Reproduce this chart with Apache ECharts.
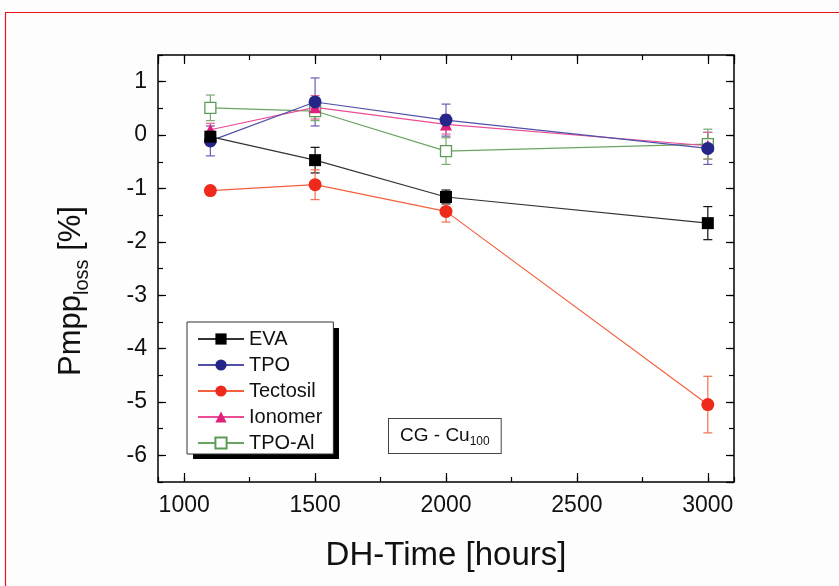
<!DOCTYPE html>
<html><head><meta charset="utf-8">
<script src="https://cdn.jsdelivr.net/npm/echarts@6/dist/echarts.min.js"></script>
<style>html,body{margin:0;padding:0;background:#fdfdfe}#c{width:839px;height:586px}</style>
</head><body><div id="c"></div>
<script>
// ---- data ----
const hours = [1100, 1500, 2000, 3000];
const seriesNames = ['EVA', 'TPO', 'Tectosil', 'Ionomer', 'TPO-Al'];
const evaValues = [-0.03, -0.47, -1.16, -1.65];
const evaErrors = [0.08, 0.24, 0.13, 0.31];
const tpoValues = [-0.11, 0.62, 0.28, -0.25];
const tpoErrors = [0.28, 0.45, 0.30, 0.30];
const tectosilValues = [-1.04, -0.93, -1.43, -5.05];
const tectosilErrors = [0.06, 0.28, 0.20, 0.53];
const ionomerValues = [0.10, 0.52, 0.20, -0.20];
const ionomerErrors = [0.12, 0.22, 0.18, 0.25];
const tpoAlValues = [0.51, 0.45, -0.30, -0.17];
const tpoAlErrors = [0.24, 0.18, 0.25, 0.28];
const xTickLabels = [1000, 1500, 2000, 2500, 3000];
const yTickLabels = [1, 0, -1, -2, -3, -4, -5, -6];

const FONT = 'Liberation Sans, Arial, sans-serif';
const chart = echarts.init(document.getElementById('c'));

function pts(vals) { return hours.map((h, i) => [h, vals[i]]); }
function errData(vals, errs) { return hours.map((h, i) => [h, vals[i] - errs[i], vals[i] + errs[i]]); }

function lineSeries(name, vals, symbol, size, itemStyle, lineColor, z) {
  return { name, type: 'line', data: pts(vals), symbol, symbolSize: size,
    itemStyle, lineStyle: { color: lineColor, width: 1.2 }, z, emphasis: { disabled: true } };
}
function errSeries(name, vals, errs, color) {
  return {
    type: 'custom', name: name + ' err', data: errData(vals, errs), encode: { x: 0, y: [1, 2] }, z: 1, silent: true,
    renderItem: function (params, api) {
      const x = api.value(0);
      const lo = api.coord([x, api.value(1)]);
      const hi = api.coord([x, api.value(2)]);
      const w = 4.5;
      const st = { stroke: color, lineWidth: 1.2 };
      return { type: 'group', children: [
        { type: 'line', shape: { x1: lo[0], y1: lo[1], x2: hi[0], y2: hi[1] }, style: st },
        { type: 'line', shape: { x1: lo[0] - w, y1: lo[1], x2: lo[0] + w, y2: lo[1] }, style: st },
        { type: 'line', shape: { x1: hi[0] - w, y1: hi[1], x2: hi[0] + w, y2: hi[1] }, style: st }
      ] };
    }
  };
}

const xFmt = v => (xTickLabels.indexOf(v) >= 0 ? String(v) : '');
const yFmt = v => (yTickLabels.indexOf(v) >= 0 ? String(v) : '');

function xAxisDef(pos, step, major) {
  return { type: 'value', position: pos, min: 900, max: 3100, minInterval: step, maxInterval: step,
    axisLine: { show: false, onZero: false }, splitLine: { show: false },
    axisTick: { inside: true, length: major ? 9 : 5, lineStyle: { color: '#000', width: 1.2 } },
    axisLabel: (pos === 'bottom' && major) ? { show: true, fontSize: 23, color: '#111', fontFamily: FONT, margin: 12,
      showMinLabel: false, showMaxLabel: false, formatter: xFmt } : { show: false } };
}
function yAxisDef(pos, step, major) {
  return { type: 'value', position: pos, min: -6.5, max: 1.5, minInterval: step, maxInterval: step,
    axisLine: { show: false, onZero: false }, splitLine: { show: false },
    axisTick: { inside: true, length: major ? 8 : 5, lineStyle: { color: '#000', width: 1.2 } },
    axisLabel: (pos === 'left' && major) ? { show: true, fontSize: 23, color: '#111', fontFamily: FONT, margin: 11,
      showMinLabel: false, showMaxLabel: false, formatter: yFmt } : { show: false } };
}

const xAxes = [xAxisDef('bottom', 500, true), xAxisDef('bottom', 250, false), xAxisDef('top', 500, true), xAxisDef('top', 250, false)];
xAxes[0].name = 'DH-Time [hours]';
xAxes[0].nameLocation = 'middle';
xAxes[0].nameGap = 57;
xAxes[0].nameTextStyle = { fontSize: 33, color: '#111', fontFamily: FONT };

const option = {
  animation: false,
  backgroundColor: '#fdfdfe',
  textStyle: { fontFamily: FONT },
  grid: { left: 158, right: 105, top: 55, bottom: 104, show: true, borderColor: '#000', borderWidth: 1.5, backgroundColor: '#fff' },
  xAxis: xAxes,
  yAxis: [yAxisDef('left', 1, true), yAxisDef('left', 0.5, false), yAxisDef('right', 1, true), yAxisDef('right', 0.5, false)],
  legend: {
    orient: 'vertical', left: 187, top: 322, data: seriesNames,
    itemWidth: 46, itemHeight: 14, itemGap: 6, padding: [7, 11, 1, 10],
    textStyle: { fontSize: 20, lineHeight: 20, color: '#111', fontFamily: FONT },
    backgroundColor: '#fff', borderColor: '#333', borderWidth: 1,
    selectedMode: false
  },
  series: [
    errSeries('EVA', evaValues, evaErrors, '#111'),
    errSeries('TPO', tpoValues, tpoErrors, '#6a5cb0'),
    errSeries('Tectosil', tectosilValues, tectosilErrors, '#f07050'),
    errSeries('Ionomer', ionomerValues, ionomerErrors, '#e8609a'),
    errSeries('TPO-Al', tpoAlValues, tpoAlErrors, '#78aa70'),
    lineSeries('TPO-Al', tpoAlValues, 'rect', 11, { color: '#fff', borderColor: '#5e9a58', borderWidth: 1.3 }, '#6aa462', 3),
    lineSeries('Ionomer', ionomerValues, 'triangle', 12, { color: '#e0207a' }, '#ea4c96', 4),
    lineSeries('Tectosil', tectosilValues, 'circle', 13, { color: '#ee2a1c' }, '#f2603e', 5),
    lineSeries('TPO', tpoValues, 'circle', 13, { color: '#25258a' }, '#5050a8', 6),
    lineSeries('EVA', evaValues, 'rect', 12, { color: '#000' }, '#333', 7)
  ],
  graphic: [
    { type: 'rect', silent: true, z: -10, shape: { x: 5.5, y: 12.5, width: 900, height: 700 },
      style: { fill: 'none', stroke: '#e8141c', lineWidth: 1.2 } },
    { type: 'rect', silent: true, z: 1, shape: { x: 193, y: 328, width: 146, height: 131 },
      style: { fill: '#000' } },
    { type: 'text', silent: true, x: 71, y: 291, rotation: Math.PI / 2,
      style: { text: '{a|Pmpp}{b|loss}{a| [%]}', align: 'center', verticalAlign: 'middle',
        rich: { a: { fontSize: 31, lineHeight: 42, fill: '#111', fontFamily: FONT },
                b: { fontSize: 20, lineHeight: 20, verticalAlign: 'bottom', fill: '#111', fontFamily: FONT } } } },
    { type: 'text', silent: true, x: 389, y: 419, z: 100,
      style: { text: '{a|CG - Cu}{b|100}', padding: [5, 11, 5, 11], borderColor: '#444', borderWidth: 1, backgroundColor: '#fff',
        rich: { a: { fontSize: 19, lineHeight: 24, fill: '#111', fontFamily: FONT },
                b: { fontSize: 12, lineHeight: 12, verticalAlign: 'bottom', fill: '#111', fontFamily: FONT } } } }
  ]
};
chart.setOption(option);
</script>
</body></html>
